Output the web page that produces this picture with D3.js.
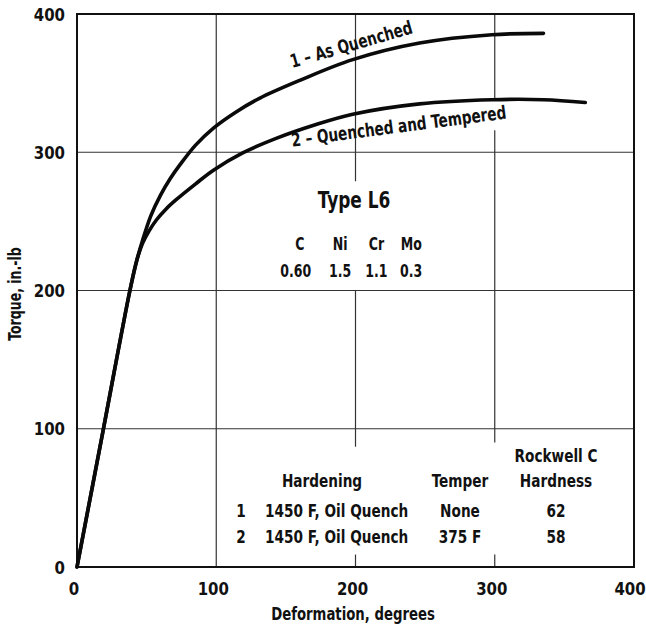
<!DOCTYPE html>
<html>
<head>
<meta charset="utf-8">
<script src="https://cdn.jsdelivr.net/npm/d3@7"></script>
<style>
  html, body { margin: 0; padding: 0; background: #fff; }
  svg text {
    font-family: 'Liberation Sans Narrow', 'DejaVu Sans Condensed', sans-serif;
    font-weight: bold;
    fill: #111;
  }
</style>
</head>
<body>
<div id="chart"></div>
<script>
// Torsion test curves, Type L6 tool steel

const xTicks = [0, 100, 200, 300, 400];
const yTicks = [0, 100, 200, 300, 400];

// 1 - As Quenched
const curve1Deg    = [0, 19, 38, 43, 47, 53, 60, 67, 74, 85, 98, 114, 131, 160, 198, 246, 298, 335];
const curve1Torque = [0, 100, 200, 222, 236, 254, 269, 281, 291, 305, 317.5, 329, 339, 352, 367, 379, 385, 386];

// 2 - Quenched and Tempered
const curve2Deg    = [0, 19, 38, 43, 47, 52, 57, 64, 71, 85, 98, 119, 143, 170, 198, 246, 298, 335, 365];
const curve2Torque = [0, 100, 200, 222, 234, 243.5, 251, 259, 265.5, 277, 287, 299.5, 310, 319.5, 327.5, 335, 338, 338, 336];

const curveLabels = ["1 – As Quenched", "2 – Quenched and Tempered"];

// composition
const alloyElements = ["C", "Ni", "Cr", "Mo"];
const alloyPercent  = ["0.60", "1.5", "1.1", "0.3"];

// heat treatment table
const rowNumbers = ["1", "2"];
const hardening  = ["1450 F, Oil Quench", "1450 F, Oil Quench"];
const temper     = ["None", "375 F"];
const hardness   = ["62", "58"];

const width = 646, height = 626;
const narrow = 0.82;   // squeeze the text to look like the condensed print type

const svg = d3.select("#chart").append("svg")
    .attr("width", width)
    .attr("height", height);

svg.append("rect").attr("width", width).attr("height", height).attr("fill", "#fff");

const x = d3.scaleLinear().domain([0, 400]).range([77, 634]);
const y = d3.scaleLinear().domain([0, 400]).range([567, 14]);

function addText(px, py, str, size, anchor, rot, sx) {
    return svg.append("text")
        .attr("transform", `translate(${px},${py}) rotate(${rot || 0}) scale(${sx || narrow},1)`)
        .attr("text-anchor", anchor || "middle")
        .style("font-size", size + "px")
        .text(str);
}

// grid lines (some broken where the notes sit)
const vGrid = [
    { at: 100, parts: [[0, 400]] },
    { at: 200, parts: [[0, 9], [87, 200], [279, 400]] },
    { at: 300, parts: [[0, 9], [90, 316], [338, 400]] }
];
vGrid.forEach(g => {
    g.parts.forEach(p => {
        svg.append("line")
            .attr("x1", x(g.at)).attr("x2", x(g.at))
            .attr("y1", y(p[0])).attr("y2", y(p[1]))
            .attr("stroke", "#333").attr("stroke-width", 1.2);
    });
});
[100, 200, 300].forEach(v => {
    svg.append("line")
        .attr("x1", x(0)).attr("x2", x(400))
        .attr("y1", y(v)).attr("y2", y(v))
        .attr("stroke", "#333").attr("stroke-width", 1.2);
});

// frame
svg.append("rect")
    .attr("x", x(0)).attr("y", y(400))
    .attr("width", x(400) - x(0)).attr("height", y(0) - y(400))
    .attr("fill", "none").attr("stroke", "#111").attr("stroke-width", 2);

// tick labels
xTicks.forEach(d => {
    addText(Math.min(x(d) - 3, 630), 595, d, 18.5, "middle", 0, 0.9);
});
yTicks.forEach(d => {
    addText(x(0) - 12, y(d) + 6.5, d, 18.5, "end", 0, 0.9);
});

// axis titles
addText(353, 620, "Deformation, degrees", 18, "middle");
addText(21, 294, "Torque, in.-lb", 17, "middle", -90);

// curves
const line = d3.line()
    .x(d => x(d[0]))
    .y(d => y(d[1]))
    .curve(d3.curveCatmullRom.alpha(0.5));

[[curve1Deg, curve1Torque], [curve2Deg, curve2Torque]].forEach(c => {
    svg.append("path")
        .datum(c[0].map((d, i) => [d, c[1][i]]))
        .attr("d", line)
        .attr("fill", "none")
        .attr("stroke", "#0a0a0a")
        .attr("stroke-width", 3.6)
        .attr("stroke-linecap", "round")
        .attr("stroke-linejoin", "round");
});

// curve labels
const labelPos = [[154.5, 361, -16], [154.5, 304, -7.5]];
curveLabels.forEach((t, i) => {
    const p = labelPos[i];
    addText(x(p[0]), y(p[1]), t, 18.5, "start", p[2]);
});

// Type L6 block
addText(x(199), y(259.5), "Type L6", 23, "middle");

const alloyX = [160, 189, 215, 240];
alloyElements.forEach((d, i) => addText(x(alloyX[i]), y(229), d, 17, "middle"));
alloyPercent.forEach((d, i) => addText(x(alloyX[i]) - (i === 0 ? 4 : 0), y(210), d, 17, "middle"));

// heat treatment table
const colTemp = 460, colRock = 556, colNum = 241;
addText(colRock, 461.5, "Rockwell C", 18.5, "middle");
addText(322, 486.5, "Hardening", 18.5, "middle");
addText(colTemp, 486.5, "Temper", 18.5, "middle");
addText(colRock, 486.5, "Hardness", 18.5, "middle");

const rowY = [516.5, 543];
rowNumbers.forEach((n, i) => {
    addText(colNum, rowY[i], n, 18.5, "middle");
    addText(265, rowY[i], hardening[i], 18.5, "start");
    addText(colTemp, rowY[i], temper[i], 18.5, "middle");
    addText(colRock, rowY[i], hardness[i], 18.5, "middle");
});
</script>
</body>
</html>
